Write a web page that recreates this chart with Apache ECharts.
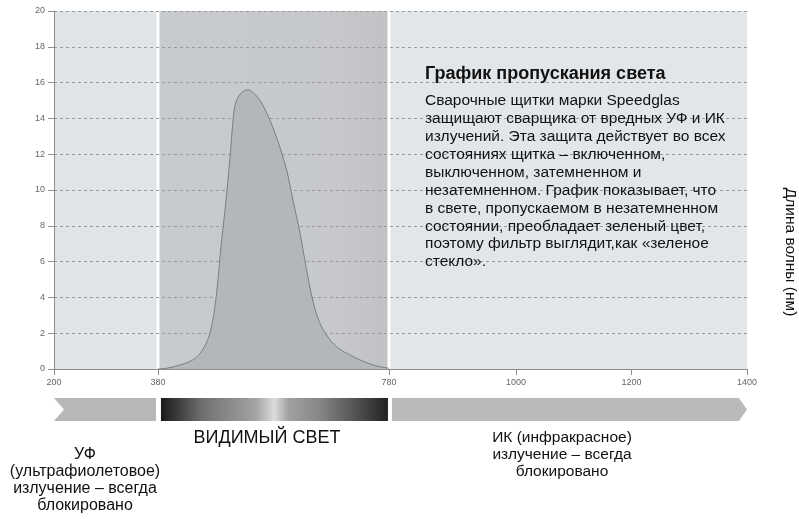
<!DOCTYPE html>
<html><head><meta charset="utf-8">
<script src="https://cdn.jsdelivr.net/npm/echarts@6/dist/echarts.min.js"></script>
<style>html,body{margin:0;padding:0;background:#fff}#c{width:799px;height:519px}</style>
</head><body><div id="c"></div>
<script>
// ---- data ----
const wavelengths = [380,395,418,440,453,463,470,477,484,489,493,499,505,510,513,519,527,536,546,557,574,591,603,614,626,637,649,660,672,689,718,753,780];
const transmission = [0,0.04,0.22,0.5,0.88,1.4,2.0,3.1,5.0,6.8,7.95,9.8,11.9,13.9,14.65,15.2,15.5,15.6,15.4,15.0,13.9,12.4,11.1,9.4,7.6,5.6,3.7,2.6,1.9,1.25,0.69,0.22,0.04];
const xTickValues = [200,380,780,1000,1200,1400];
const yMin = 0, yMax = 20, yStep = 2;
const bandStarts = [200,380,780];
const bandEnds = [380,780,1400];
const bandNames = ['uv','vis','ir'];
const titleText = 'График пропускания света';
const bodyLines = [
 'Сварочные щитки марки Speedglas',
 'защищают сварщика от вредных УФ и ИК',
 'излучений. Эта защита действует во всех',
 'состояниях щитка – включенном,',
 'выключенном, затемненном и',
 'незатемненном. График показывает, что',
 'в свете, пропускаемом в незатемненном',
 'состоянии, преобладает зеленый цвет,',
 'поэтому фильтр выглядит,как «зеленое',
 'стекло».'
];
const visibleLabel = 'ВИДИМЫЙ СВЕТ';
const uvLines = ['УФ','(ультрафиолетовое)','излучение – всегда','блокировано'];
const irLines = ['ИК (инфракрасное)','излучение – всегда','блокировано'];
const sideLabel = 'Длина волны (нм)';

// ---- build ----
const FONT = '"Liberation Sans", Arial, sans-serif';
const curve = wavelengths.map((w,i)=>[w, transmission[i]]);
const bands = bandStarts.map((s,i)=>[s, bandEnds[i], i]);

const bandColors = [
  '#e1e4e7',
  {type:'linear',x:0,y:0,x2:1,y2:0,colorStops:[{offset:0,color:'#c8cbce'},{offset:0.75,color:'#c6c8cb'},{offset:1,color:'#c1c2c4'}]},
  '#e3e6e9'
];
const specGrad = {type:'linear',x:0,y:0,x2:1,y2:0,colorStops:[
  {offset:0,color:'#1a1a1a'},{offset:0.07,color:'#3a3a3a'},{offset:0.18,color:'#6f6f6f'},
  {offset:0.3,color:'#8a8a8a'},{offset:0.42,color:'#a4a4a4'},{offset:0.5,color:'#dcdcdc'},
  {offset:0.56,color:'#a2a2a2'},{offset:0.7,color:'#868686'},{offset:0.85,color:'#555555'},
  {offset:1,color:'#222222'}]};

const chart = echarts.init(document.getElementById('c'), null, {renderer:'canvas'});
chart.setOption({
  animation:false,
  backgroundColor:'#ffffff',
  grid:[
    {left:54, top:11, width:693, height:358},
    {left:54, top:398, width:693, height:23}
  ],
  xAxis:[
    {gridIndex:0, type:'value', min:200, max:1400, z:1,
     axisLine:{show:true, lineStyle:{color:'#8c8c8c', width:1}},
     axisTick:{show:true, customValues:xTickValues, length:6, lineStyle:{color:'#8c8c8c'}},
     axisLabel:{show:true, customValues:xTickValues, fontSize:9, color:'#666', margin:9, fontFamily:FONT,
                formatter:function(v){return String(v);}},
     splitLine:{show:false}},
    {gridIndex:1, type:'value', min:200, max:1400, show:false}
  ],
  yAxis:[
    {gridIndex:0, type:'value', min:yMin, max:yMax, interval:yStep, z:1,
     axisLine:{show:true, lineStyle:{color:'#8c8c8c', width:1}},
     axisTick:{show:true, length:6, lineStyle:{color:'#8c8c8c'}},
     axisLabel:{fontSize:9, color:'#666', margin:9, fontFamily:FONT},
     splitLine:{show:true, lineStyle:{color:'#9a9a9a', type:[3,3], width:1}}},
    {gridIndex:1, type:'value', min:0, max:1, show:false}
  ],
  series:[
    {type:'custom', xAxisIndex:0, yAxisIndex:0, z:0, silent:true,
     data:bands,
     renderItem:function(params, api){
       const a = api.coord([api.value(0), yMax]);
       const b = api.coord([api.value(1), yMin]);
       const idx = api.value(2);
       const children = [{type:'rect', shape:{x:a[0], y:a[1], width:b[0]-a[0], height:b[1]-a[1]}, style:{fill:bandColors[idx]}}];
       if (idx > 0) {
         children.push({type:'rect', shape:{x:a[0]-1.5, y:a[1], width:3, height:b[1]-a[1]}, style:{fill:'#ffffff'}});
       }
       return {type:'group', children:children};
     }},
    {type:'line', xAxisIndex:0, yAxisIndex:0, z:2, data:curve, smooth:0.35, symbol:'none',
     lineStyle:{color:'#7b7e81', width:1},
     areaStyle:{color:'#b4b7ba', opacity:1}},
    {type:'custom', xAxisIndex:1, yAxisIndex:1, z:2, silent:true,
     data:bands,
     renderItem:function(params, api){
       const x0 = api.coord([api.value(0), 1])[0];
       const x1 = api.coord([api.value(1), 1])[0];
       const yT = api.coord([api.value(0), 1])[1];
       const yB = api.coord([api.value(0), 0])[1];
       const ym = (yT+yB)/2;
       const idx = api.value(2);
       if (idx === 0) {
         return {type:'polygon', shape:{points:[[x0,yT],[x1-2,yT],[x1-2,yB],[x0,yB],[x0+10,ym]]}, style:{fill:'#b5b7b9'}};
       } else if (idx === 1) {
         return {type:'rect', shape:{x:x0+3, y:yT, width:(x1-1)-(x0+3), height:yB-yT}, style:{fill:specGrad}};
       }
       return {type:'polygon', shape:{points:[[x0+3,yT],[x1-8,yT],[x1,ym],[x1-8,yB],[x0+3,yB]]}, style:{fill:'#b8babc'}};
     }}
  ],
  graphic:[
    {type:'text', left:425, top:65, z:10, style:{text:titleText, font:'bold 18px '+FONT, fill:'#111'}},
    {type:'text', left:425, top:92, z:10, style:{text:bodyLines.join('\n'), font:'15.5px '+FONT, lineHeight:17.9, fill:'#111'}},
    {type:'text', x:267, y:438, z:10, style:{text:visibleLabel, font:'18px '+FONT, fill:'#111', align:'center', verticalAlign:'middle'}},
    {type:'text', x:85, y:446, z:10, style:{text:uvLines.join('\n'), font:'16px '+FONT, lineHeight:17, fill:'#111', align:'center', verticalAlign:'top'}},
    {type:'text', x:562, y:429, z:10, style:{text:irLines.join('\n'), font:'15.5px '+FONT, lineHeight:17, fill:'#111', align:'center', verticalAlign:'top'}},
    {type:'text', x:790, y:252, rotation:-Math.PI/2, z:10, style:{text:sideLabel, font:'15.5px '+FONT, fill:'#111', align:'center', verticalAlign:'middle'}}
  ]
});
</script></body></html>
